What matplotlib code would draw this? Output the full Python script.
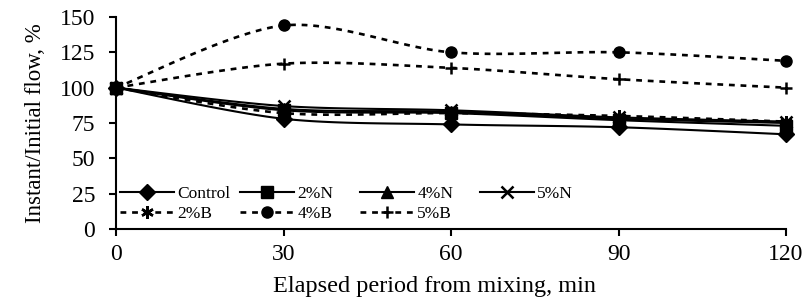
import numpy as np
import matplotlib
matplotlib.use("Agg")
import matplotlib.pyplot as plt
from matplotlib.lines import Line2D

plt.rcParams['font.family'] = ['Liberation Serif', 'DejaVu Serif']

minutes = [0, 30, 60, 90, 120]
control = [100, 78, 74, 72, 67]
n2 = [100, 84, 82, 77, 73]
n4 = [100, 85, 83, 78, 75]
n5 = [100, 87, 84, 79, 76]
b2 = [100, 82, 82, 80, 76]
b4 = [100, 144, 125, 125, 119]
b5 = [100, 117, 114, 106, 100]

series = [
    ("Control", control, 'D', '-'),
    ("2%N", n2, 's', '-'),
    ("4%N", n4, '^', '-'),
    ("5%N", n5, 'x', '-'),
    ("2%B", b2, (6, 2, 0), ':'),
    ("4%B", b4, 'o', ':'),
    ("5%B", b5, '+', ':'),
]


def smooth(x, y, n=30, t=0.45):
    """Catmull-Rom style curve through the points (rendering only)."""
    x = np.asarray(x, float)
    y = np.asarray(y, float)
    px = np.concatenate([[x[0]], x, [x[-1]]])
    py = np.concatenate([[y[0]], y, [y[-1]]])
    xs, ys = [], []
    for i in range(1, len(px) - 2):
        p0 = np.array([px[i - 1], py[i - 1]])
        p1 = np.array([px[i], py[i]])
        p2 = np.array([px[i + 1], py[i + 1]])
        p3 = np.array([px[i + 2], py[i + 2]])
        c1 = p1 + (p2 - p0) * t / 3
        c2 = p2 - (p3 - p1) * t / 3
        s = np.linspace(0, 1, n)[:, None]
        pts = ((1 - s) ** 3) * p1 + 3 * ((1 - s) ** 2) * s * c1 + 3 * (1 - s) * s ** 2 * c2 + s ** 3 * p2
        xs.extend(pts[:, 0])
        ys.extend(pts[:, 1])
    return xs, ys


W, H = 806, 306
fig = plt.figure(figsize=(W / 100, H / 100), dpi=100)
ax = fig.add_axes([116 / W, 1 - 229 / H, 670 / W, 212 / H])

handles = []
for name, vals, mk, ls in series:
    sx, sy = smooth(minutes, vals)
    dash = (0, (2.2, 2.2)) if ls == ':' else '-'
    lw = 1.9 if ls == ':' else 1.5
    thin = mk in ('x', '+', (6, 2, 0))
    msz = 9 if thin else 8
    mew = 1.8 if thin else 1
    ax.plot(sx, sy, color='black', linestyle=dash, linewidth=lw)
    ax.plot(minutes, vals, linestyle='none', marker=mk, color='black',
            markersize=msz, markeredgewidth=mew, clip_on=False)
    handles.append(Line2D([], [], color='black', linestyle=dash, linewidth=lw,
                          marker=mk, markersize=msz, markeredgewidth=mew))

ax.set_xlim(0, 120)
ax.set_ylim(0, 150)
ax.set_xticks(minutes)
ax.set_yticks(np.arange(0, 151, 25))
ax.tick_params(axis='both', labelsize=17, direction='out', length=5, width=1.5)
ax.tick_params(axis='x', pad=6)
ax.tick_params(axis='y', pad=10)
for s in ('top', 'right'):
    ax.spines[s].set_visible(False)
for s in ('left', 'bottom'):
    ax.spines[s].set_linewidth(1.5)

ax.set_xlabel("Elapsed period from mixing, min", fontsize=17.5)
ax.xaxis.set_label_coords(0.476, -0.22)
ax.set_ylabel("Instant/Initial flow, %", fontsize=16.5, labelpad=10)

# legend laid out like the original: 4 equal-width columns, filled row-wise
names = [s[0] for s in series]
cols = [[0, 4], [1, 5], [2, 6], [3]]
col_x = [120, 240, 360, 480]
top_y = 186
for ci, idx in enumerate(cols):
    lg = fig.legend([handles[i] for i in idx], [names[i] for i in idx],
                    loc='upper left',
                    bbox_to_anchor=(col_x[ci] / W, 1 - top_y / H),
                    frameon=False, fontsize=12.5, handlelength=3.1,
                    handletextpad=0.2, labelspacing=0.2, borderpad=0,
                    borderaxespad=0)

fig.savefig("out.png", dpi=100)
